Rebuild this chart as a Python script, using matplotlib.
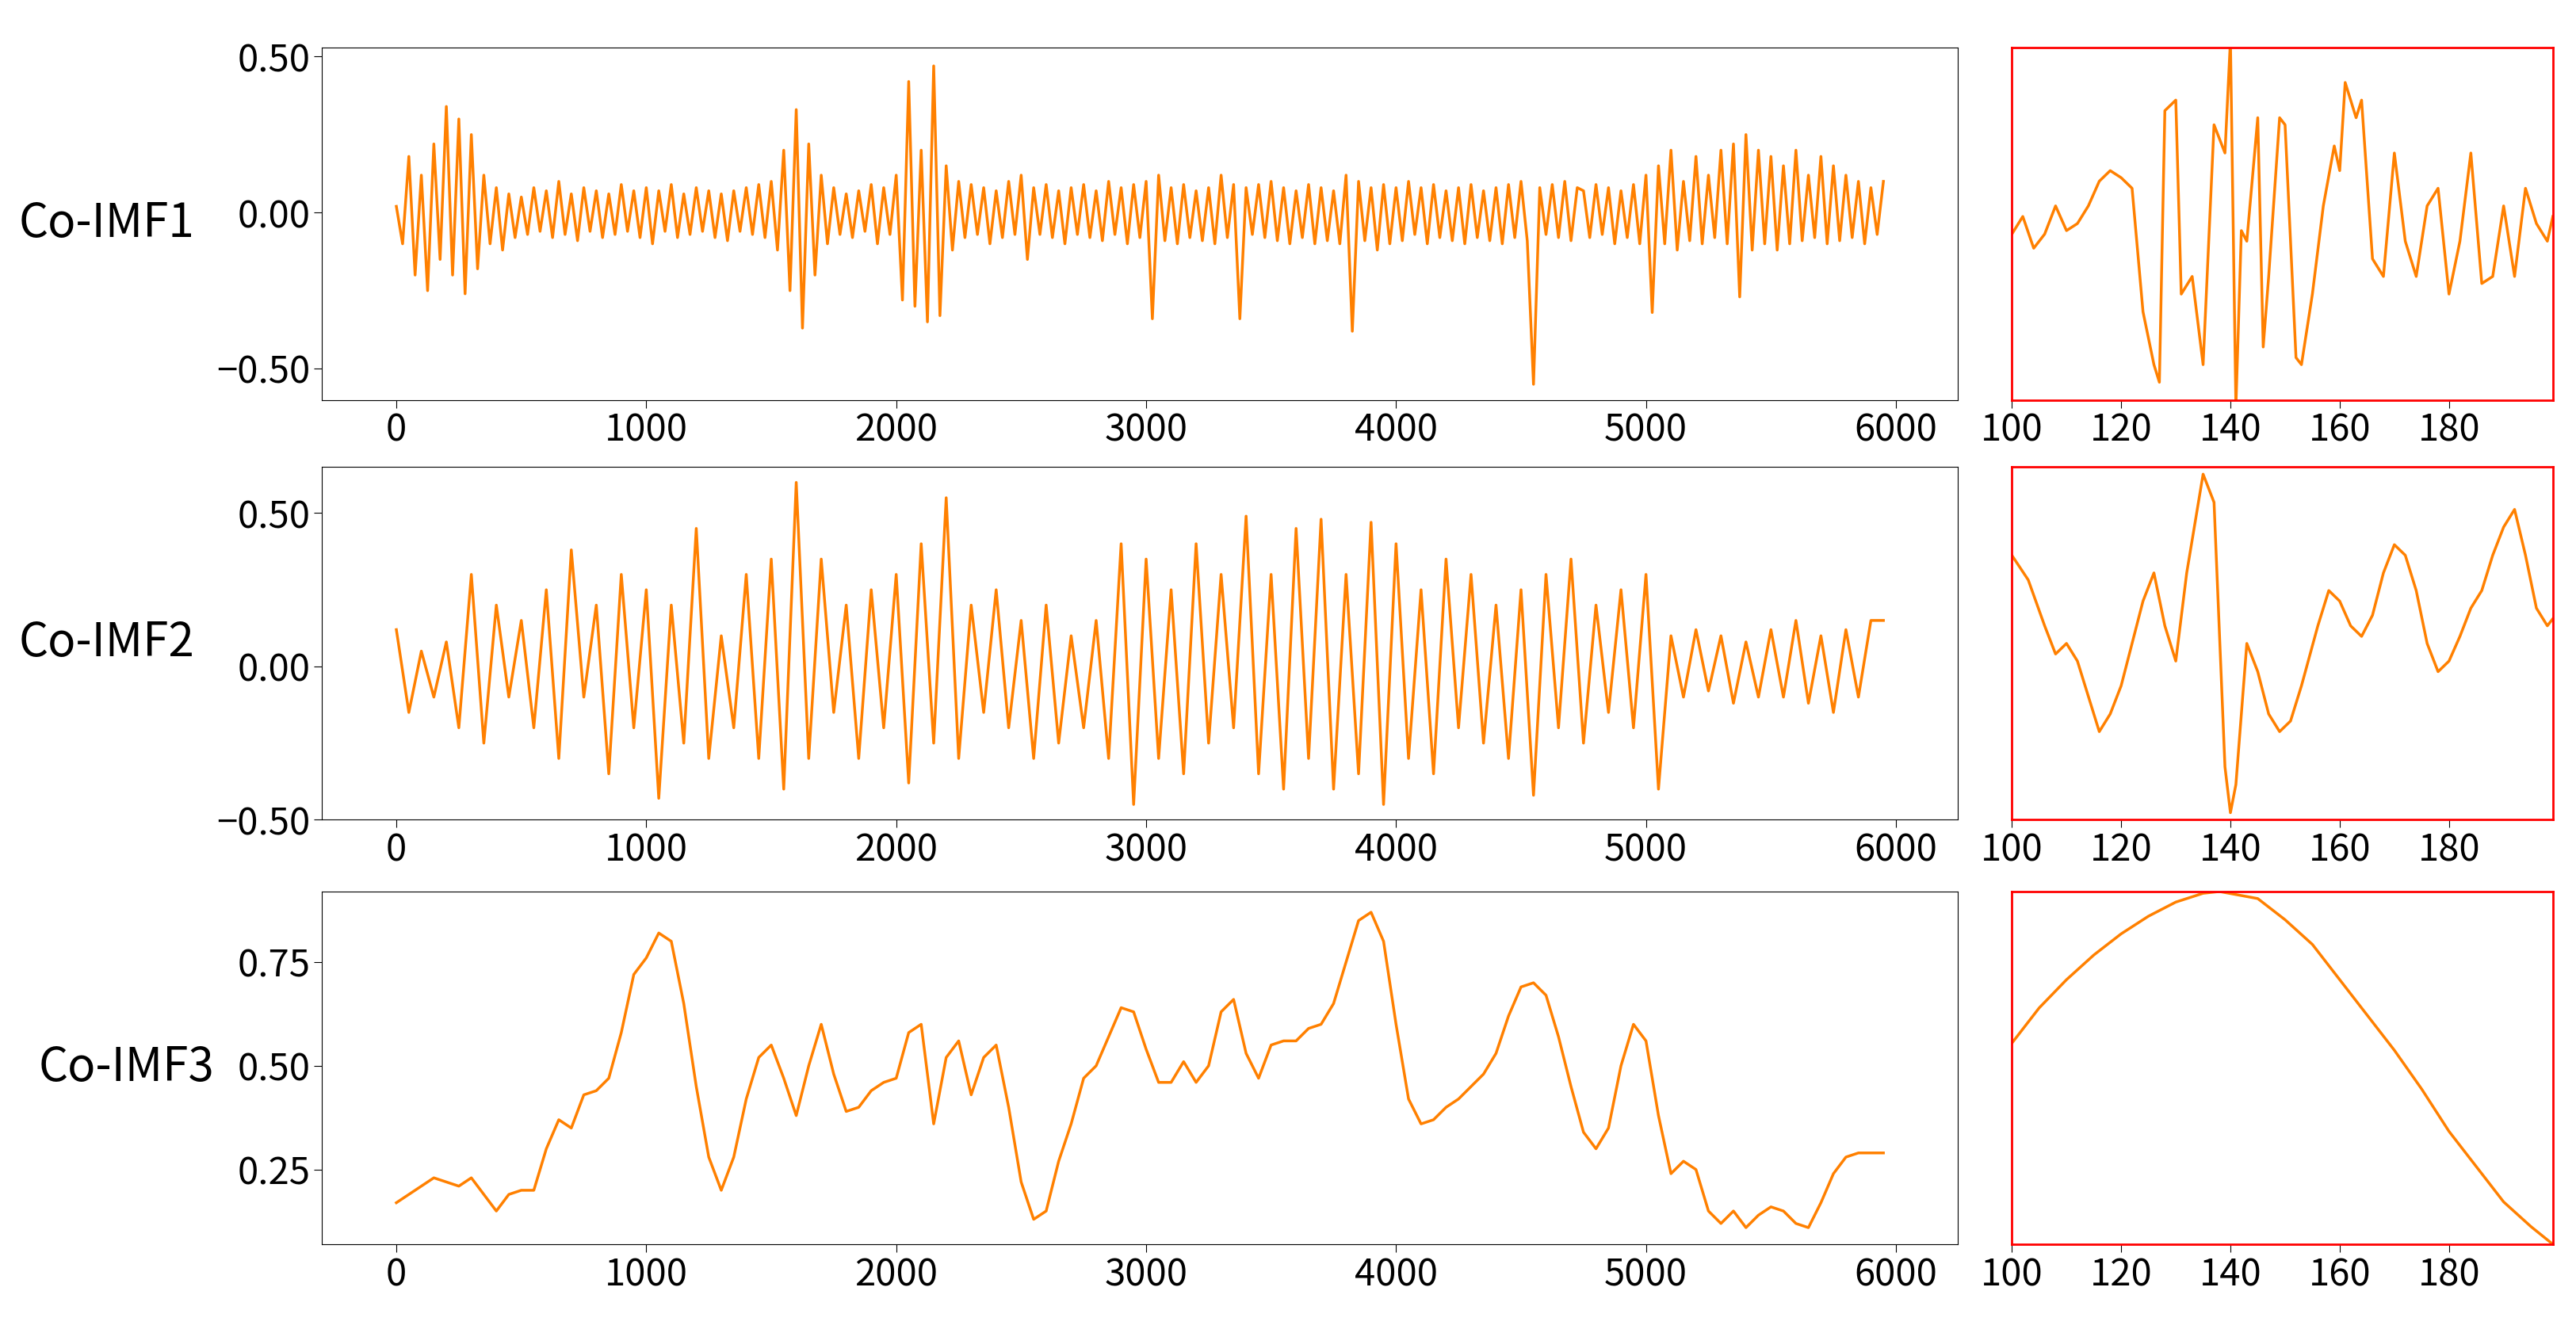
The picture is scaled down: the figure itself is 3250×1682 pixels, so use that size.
import numpy as np
import matplotlib
matplotlib.use("Agg")
import matplotlib.pyplot as plt
plt.rcParams['font.family'] = ['Noto Sans CJK SC', 'DejaVu Sans']
plt.rcParams['axes.unicode_minus'] = False

labels = ["Co-IMF1", "Co-IMF2", "Co-IMF3"]

imf1 = [0.02,-0.10,0.18,-0.20,0.12,-0.25,0.22,-0.15,0.34,-0.20,
0.30,-0.26,0.25,-0.18,0.12,-0.10,0.08,-0.12,0.06,-0.08,
0.05,-0.07,0.08,-0.06,0.07,-0.08,0.10,-0.07,0.06,-0.09,
0.08,-0.06,0.07,-0.08,0.06,-0.07,0.09,-0.06,0.07,-0.08,
0.08,-0.10,0.07,-0.06,0.09,-0.08,0.06,-0.07,0.08,-0.06,
0.07,-0.08,0.06,-0.09,0.07,-0.06,0.08,-0.07,0.09,-0.08,
0.10,-0.12,0.20,-0.25,0.33,-0.37,0.22,-0.20,0.12,-0.10,
0.08,-0.07,0.06,-0.08,0.07,-0.06,0.09,-0.10,0.08,-0.07,
0.12,-0.28,0.42,-0.30,0.20,-0.35,0.47,-0.33,0.15,-0.12,
0.10,-0.08,0.09,-0.07,0.08,-0.10,0.07,-0.08,0.10,-0.07,
0.12,-0.15,0.08,-0.07,0.09,-0.08,0.07,-0.10,0.08,-0.07,
0.09,-0.08,0.07,-0.09,0.10,-0.07,0.08,-0.10,0.09,-0.08,
0.10,-0.34,0.12,-0.09,0.08,-0.10,0.09,-0.08,0.07,-0.09,
0.08,-0.10,0.12,-0.08,0.09,-0.34,0.08,-0.07,0.09,-0.08,
0.10,-0.09,0.08,-0.10,0.07,-0.08,0.09,-0.10,0.08,-0.09,
0.07,-0.10,0.12,-0.38,0.10,-0.09,0.08,-0.12,0.09,-0.10,
0.08,-0.09,0.10,-0.07,0.08,-0.10,0.09,-0.08,0.07,-0.09,
0.08,-0.10,0.09,-0.08,0.07,-0.09,0.08,-0.10,0.09,-0.08,
0.10,-0.09,-0.55,0.08,-0.07,0.09,-0.08,0.10,-0.09,0.08,
0.07,-0.08,0.09,-0.07,0.08,-0.10,0.07,-0.08,0.09,-0.10,
0.12,-0.32,0.15,-0.10,0.20,-0.12,0.10,-0.09,0.18,-0.10,
0.12,-0.08,0.20,-0.10,0.22,-0.27,0.25,-0.12,0.20,-0.10,
0.18,-0.12,0.15,-0.10,0.20,-0.09,0.12,-0.08,0.18,-0.10,
0.15,-0.09,0.12,-0.08,0.10,-0.10,0.08,-0.07,0.10]

imf2 = [0.12,-0.15,0.05,-0.10,0.08,-0.20,0.30,-0.25,0.20,-0.10,
0.15,-0.20,0.25,-0.30,0.38,-0.10,0.20,-0.35,0.30,-0.20,
0.25,-0.43,0.20,-0.25,0.45,-0.30,0.10,-0.20,0.30,-0.30,
0.35,-0.40,0.60,-0.30,0.35,-0.15,0.20,-0.30,0.25,-0.20,
0.30,-0.38,0.40,-0.25,0.55,-0.30,0.20,-0.15,0.25,-0.20,
0.15,-0.30,0.20,-0.25,0.10,-0.20,0.15,-0.30,0.40,-0.45,
0.35,-0.30,0.25,-0.35,0.40,-0.25,0.30,-0.20,0.49,-0.35,
0.30,-0.40,0.45,-0.30,0.48,-0.40,0.30,-0.35,0.47,-0.45,
0.40,-0.30,0.25,-0.35,0.35,-0.20,0.30,-0.25,0.20,-0.30,
0.25,-0.42,0.30,-0.20,0.35,-0.25,0.20,-0.15,0.25,-0.20,
0.30,-0.40,0.10,-0.10,0.12,-0.08,0.10,-0.12,0.08,-0.10,
0.12,-0.10,0.15,-0.12,0.10,-0.15,0.12,-0.10,0.15,0.15]

imf3 = [0.17,0.19,0.21,0.23,0.22,0.21,0.23,0.19,0.15,0.19,0.20,0.20,0.30,0.37,0.35,0.43,0.44,0.47,0.58,0.72,
0.76,0.82,0.80,0.65,0.45,0.28,0.20,0.28,0.42,0.52,0.55,0.47,0.38,0.50,0.60,0.48,0.39,0.40,0.44,0.46,
0.47,0.58,0.60,0.36,0.52,0.56,0.43,0.52,0.55,0.40,0.22,0.13,0.15,0.27,0.36,0.47,0.50,0.57,0.64,0.63,
0.54,0.46,0.46,0.51,0.46,0.50,0.63,0.66,0.53,0.47,0.55,0.56,0.56,0.59,0.60,0.65,0.75,0.85,0.87,0.80,
0.60,0.42,0.36,0.37,0.40,0.42,0.45,0.48,0.53,0.62,0.69,0.70,0.67,0.57,0.45,0.34,0.30,0.35,0.50,0.60,
0.56,0.38,0.24,0.27,0.25,0.15,0.12,0.15,0.11,0.14,0.16,0.15,0.12,0.11,0.17,0.24,0.28,0.29,0.29,0.29]

z1x = [100,102,104,106,108,110,112,114,116,118,120,122,124,126,127,128,130,131,133,135,137,139,140,141,142,143,145,146,147,149,150,152,153,155,157,159,160,161,163,164,166,168,170,172,174,176,178,180,182,184,186,188,190,192,194,196,198,199]
z1y = [0.47,0.52,0.43,0.47,0.55,0.48,0.50,0.55,0.62,0.65,0.63,0.60,0.25,0.10,0.05,0.82,0.85,0.30,0.35,0.10,0.78,0.70,1.02,-0.02,0.48,0.45,0.80,0.15,0.35,0.80,0.78,0.12,0.10,0.30,0.55,0.72,0.65,0.90,0.80,0.85,0.40,0.35,0.70,0.45,0.35,0.55,0.60,0.30,0.45,0.70,0.33,0.35,0.55,0.35,0.60,0.50,0.45,0.52]
z2x = [100,103,106,108,110,112,114,116,118,120,122,124,126,128,130,132,135,137,139,140,141,143,145,147,149,151,153,156,158,160,162,164,166,168,170,172,174,176,178,180,182,184,186,188,190,192,194,196,198,199]
z2y = [0.75,0.68,0.55,0.47,0.50,0.45,0.35,0.25,0.30,0.38,0.50,0.62,0.70,0.55,0.45,0.70,0.98,0.90,0.15,0.02,0.10,0.50,0.42,0.30,0.25,0.28,0.38,0.55,0.65,0.62,0.55,0.52,0.58,0.70,0.78,0.75,0.65,0.50,0.42,0.45,0.52,0.60,0.65,0.75,0.83,0.88,0.75,0.60,0.55,0.57]
z3x = [100,105,110,115,120,125,130,135,138,145,150,155,160,165,170,175,180,185,190,195,199]
z3y = [0.57,0.67,0.75,0.82,0.88,0.93,0.97,0.995,1.0,0.98,0.92,0.85,0.75,0.65,0.55,0.44,0.32,0.22,0.12,0.05,0.0]

series = [imf1, imf2, imf3]
steps = [25, 50, 50]
zooms = [(z1x, z1y), (z2x, z2y), (z3x, z3y)]
ylims = [(-0.6, 0.53), (-0.5, 0.65), (0.07, 0.92)]
yticks = [[-0.5, 0.0, 0.5], [-0.5, 0.0, 0.5], [0.25, 0.5, 0.75]]
ytl = [["−0.50", "0.00", "0.50"], ["−0.50", "0.00", "0.50"], ["0.25", "0.50", "0.75"]]
label_x = [-0.078, -0.078, -0.066]

color = '#ff8000'
fig = plt.figure(figsize=(32.5, 16.82), dpi=100)
bottoms = [0.700, 0.385, 0.0666]
h = 0.2646
for i in range(3):
    ax = fig.add_axes([0.125, bottoms[i], 0.635, h])
    y = np.array(series[i])
    x = np.arange(len(y)) * steps[i]
    ax.plot(x, y, color=color, lw=2.5)
    ax.set_ylim(*ylims[i])
    ax.set_yticks(yticks[i])
    ax.set_yticklabels(ytl[i])
    ax.set_xticks([0, 1000, 2000, 3000, 4000, 5000, 6000])
    ax.tick_params(labelsize=34, length=7)
    ax.set_ylabel(labels[i], rotation=0, fontsize=42, ha='right', va='center', fontweight='medium')
    ax.yaxis.set_label_coords(label_x[i], 0.5)
    az = fig.add_axes([0.781, bottoms[i], 0.21, h])
    az.plot(zooms[i][0], zooms[i][1], color=color, lw=2.5)
    az.set_xlim(100, 199)
    az.set_ylim(0, 1)
    az.set_yticks([])
    az.set_xticks([100, 120, 140, 160, 180])
    az.tick_params(labelsize=34, length=7)
    for s in az.spines.values():
        s.set_color('red'); s.set_linewidth(2)
fig.savefig("out.png", dpi=100)
